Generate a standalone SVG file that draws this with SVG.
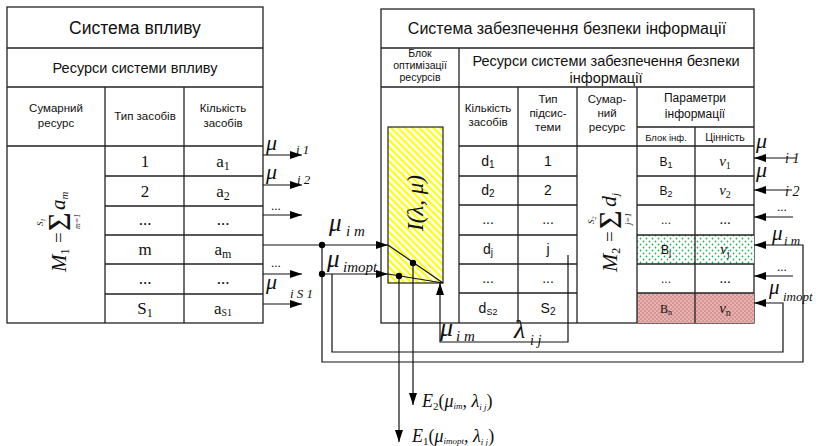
<svg xmlns="http://www.w3.org/2000/svg" width="816" height="446" viewBox="0 0 816 446">
<defs>
<style>
.ln{stroke:#222;stroke-width:1.3;fill:none}
.cn{stroke:#111;stroke-width:1.2;fill:none}
.sans{font-family:"Liberation Sans",Arial,sans-serif;fill:#111}
.serif{font-family:"Liberation Serif","Times New Roman",serif;fill:#111}
.it{font-family:"Liberation Serif","Times New Roman",serif;font-style:italic;fill:#111}
.mid{text-anchor:middle}
.dot{fill:#000}
</style>
<pattern id="hatch" width="5" height="5" patternUnits="userSpaceOnUse" patternTransform="rotate(-45)">
<rect width="5" height="5" fill="#fff"/>
<rect x="0" y="0" width="2.2" height="5" fill="#ffff00"/>
</pattern>
<pattern id="green" width="6" height="6" patternUnits="userSpaceOnUse">
<rect width="6" height="6" fill="#fff"/>
<circle cx="1.5" cy="1.5" r="0.9" fill="#27b35a"/>
<circle cx="4.5" cy="4.5" r="0.9" fill="#27b35a"/>
</pattern>
<pattern id="red" width="4" height="4" patternUnits="userSpaceOnUse">
<rect width="4" height="4" fill="#d99593"/>
<circle cx="1" cy="1" r="0.7" fill="#fbe9e9"/>
<circle cx="3" cy="3" r="0.7" fill="#fbe9e9"/>
</pattern>
<marker id="arr" viewBox="0 0 12 8" refX="12" refY="4" markerWidth="12" markerHeight="8" markerUnits="userSpaceOnUse" orient="auto">
<path d="M0,0 L12,4 L0,8 z" fill="#000"/>
</marker>
</defs>
<rect width="816" height="446" fill="#fff"/>

<g id="left-table">
<rect class="ln" x="7" y="7" width="256" height="316"/>
<path class="ln" d="M7,48 H263 M7,87 H263 M7,146 H263 M105,87 V323 M184,87 V323 M105,176 H263 M105,206 H263 M105,235 H263 M105,264 H263 M105,294 H263"/>
<text class="sans mid" x="135" y="34" font-size="17.5">Система впливу</text>
<text class="sans mid" x="135" y="73" font-size="14.5">Ресурси системи впливу</text>
<text class="sans mid" x="56" y="112" font-size="11.5">Сумарний</text>
<text class="sans mid" x="56" y="127" font-size="11.5">ресурс</text>
<text class="sans mid" x="145" y="120" font-size="11.5">Тип засобів</text>
<text class="sans mid" x="223" y="112" font-size="11.5">Кількість</text>
<text class="sans mid" x="223" y="127" font-size="11.5">засобів</text>
<g class="serif" font-size="17">
<text class="mid" x="145" y="167">1</text>
<text class="mid" x="145" y="197">2</text>
<text class="mid" x="145" y="225">...</text>
<text class="mid" x="145" y="255">m</text>
<text class="mid" x="145" y="284">...</text>
<text class="mid" x="145" y="314">S<tspan font-size="12" dy="3">1</tspan></text>
<text class="mid" x="223" y="167">a<tspan font-size="12" dy="3">1</tspan></text>
<text class="mid" x="223" y="197">a<tspan font-size="12" dy="3">2</tspan></text>
<text class="mid" x="223" y="225">...</text>
<text class="mid" x="223" y="255">a<tspan font-size="12" dy="3">m</tspan></text>
<text class="mid" x="223" y="284">...</text>
<text class="mid" x="223" y="314">a<tspan font-size="10" dy="2">S1</tspan></text>
</g>
<g transform="translate(57,232) rotate(-90)">
<text class="it" x="-40" y="9" font-size="21">M<tspan class="serif" font-style="normal" font-size="12" dy="3">1</tspan></text>
<text class="serif" x="-11" y="8" font-size="19">=</text>
<text class="serif" x="1" y="13" font-size="32">Σ</text>
<text class="it" x="6" y="-14" font-size="9">S<tspan font-size="6" dy="2">1</tspan></text>
<text class="it" x="3" y="23" font-size="8">m=1</text>
<text class="it" x="22" y="8" font-size="21">a<tspan font-size="11" dy="3">m</tspan></text>
</g>
</g>

<g id="right-table">
<rect class="ln" x="381" y="9" width="373" height="314"/>
<rect x="637" y="235" width="117" height="29" fill="url(#green)"/>
<rect x="637" y="293" width="117" height="30" fill="url(#red)"/>
<path class="ln" d="M381,48 H754 M381,87 H754 M459,48 V323 M518,87 V323 M577,87 V323 M637,87 V323 M695,127 V323 M637,127 H754 M459,146 H754 M459,176 H577 M637,176 H754 M459,205 H577 M637,205 H754 M459,235 H577 M637,235 H754 M459,264 H577 M637,264 H754 M459,293 H577 M637,293 H754"/>
<text class="sans mid" x="567" y="34" font-size="16">Система забезпечення безпеки інформації</text>
<text class="sans mid" x="420" y="57" font-size="10.5">Блок</text>
<text class="sans mid" x="420" y="69" font-size="10.5">оптимізації</text>
<text class="sans mid" x="420" y="81" font-size="10.5">ресурсів</text>
<text class="sans mid" x="606" y="66" font-size="14.5">Ресурси системи забезпечення безпеки</text>
<text class="sans mid" x="606" y="83" font-size="14.5">інформації</text>
<text class="sans mid" x="488" y="112" font-size="11.5">Кількість</text>
<text class="sans mid" x="488" y="126" font-size="11.5">засобів</text>
<text class="sans mid" x="548" y="103" font-size="11.5">Тип</text>
<text class="sans mid" x="548" y="117" font-size="11.5">підсис-</text>
<text class="sans mid" x="548" y="131" font-size="11.5">теми</text>
<text class="sans mid" x="607" y="103" font-size="11.5">Сумар-</text>
<text class="sans mid" x="607" y="117" font-size="11.5">ний</text>
<text class="sans mid" x="607" y="131" font-size="11.5">ресурс</text>
<text class="sans mid" x="695" y="102" font-size="12">Параметри</text>
<text class="sans mid" x="695" y="118" font-size="12">інформації</text>
<text class="sans mid" x="666" y="141" font-size="9.5">Блок інф.</text>
<text class="sans mid" x="725" y="141" font-size="10.5">Цінність</text>
<g class="sans" font-size="14">
<text class="mid" x="488" y="166">d<tspan font-size="10" dy="2">1</tspan></text>
<text class="mid" x="488" y="195">d<tspan font-size="10" dy="2">2</tspan></text>
<text class="mid" x="488" y="224">...</text>
<text class="mid" x="488" y="254">d<tspan font-size="10" dy="2">j</tspan></text>
<text class="mid" x="488" y="283">...</text>
<text class="mid" x="488" y="313">d<tspan font-size="9" dy="2">S2</tspan></text>
<text class="mid" x="548" y="166">1</text>
<text class="mid" x="548" y="195">2</text>
<text class="mid" x="548" y="224">...</text>
<text class="mid" x="548" y="254">j</text>
<text class="mid" x="548" y="283">...</text>
<text class="mid" x="548" y="313">S<tspan font-size="10" dy="2">2</tspan></text>
</g>
<g class="sans" font-size="12">
<text class="mid" x="666" y="166">B<tspan font-size="9" dy="2">1</tspan></text>
<text class="mid" x="666" y="195">B<tspan font-size="9" dy="2">2</tspan></text>
<text class="mid" x="666" y="224">...</text>
<text class="mid" x="666" y="254">B<tspan font-size="9" dy="2">j</tspan></text>
<text class="mid" x="666" y="283">...</text>
<text class="mid serif" x="666" y="313">B<tspan font-size="8" dy="2">n</tspan></text>
</g>
<g class="it" font-size="15">
<text class="mid" x="725" y="166">v<tspan class="serif" font-style="normal" font-size="10" dy="3">1</tspan></text>
<text class="mid" x="725" y="195">v<tspan class="serif" font-style="normal" font-size="10" dy="3">2</tspan></text>
<text class="mid serif" font-style="normal" x="725" y="224">...</text>
<text class="mid" x="725" y="254">v<tspan class="serif" font-style="normal" font-size="10" dy="3">j</tspan></text>
<text class="mid serif" font-style="normal" x="725" y="283">...</text>
<text class="mid" x="725" y="313">v<tspan class="serif" font-style="normal" font-size="10" dy="3">n</tspan></text>
</g>
<g transform="translate(607,222) rotate(-90)">
<text class="it" x="-50" y="10" font-size="22">M<tspan class="serif" font-style="normal" font-size="12" dy="3">2</tspan></text>
<text class="serif" x="-20" y="9" font-size="19">=</text>
<text class="serif" x="-7" y="14" font-size="32">Σ</text>
<text class="it" x="-2" y="-13" font-size="9">S<tspan font-size="6" dy="2">2</tspan></text>
<text class="it" x="-3" y="24" font-size="8.5">j=1</text>
<text class="it" x="15" y="9" font-size="22">d<tspan font-size="11" dy="3">j</tspan></text>
</g>
</g>

<g id="optimization-block">
<rect x="388" y="127" width="55" height="156" fill="url(#hatch)" stroke="#222" stroke-width="1.2"/>
<text class="it mid" font-size="23" transform="translate(423,203) rotate(-90)">I(λ, μ)</text>
</g>

<g id="connectors">
<line class="cn" x1="263" y1="155" x2="302" y2="155" marker-end="url(#arr)"/>
<line class="cn" x1="263" y1="185" x2="302" y2="185" marker-end="url(#arr)"/>
<line class="cn" x1="263" y1="215" x2="302" y2="215" marker-end="url(#arr)"/>
<line class="cn" x1="263" y1="274" x2="302" y2="274" marker-end="url(#arr)"/>
<line class="cn" x1="263" y1="304" x2="302" y2="304" marker-end="url(#arr)"/>
<line class="cn" x1="263" y1="245" x2="388" y2="245" marker-end="url(#arr)"/>
<line class="cn" x1="322" y1="274" x2="388" y2="274" marker-end="url(#arr)"/>
<path class="cn" d="M388,245 L443,283 M388,274 L443,283"/>
<path class="cn" d="M322,245 V362 H803 V245 H754" marker-end="url(#arr)"/>
<path class="cn" d="M332,274 V352 H783 V303 H754" marker-end="url(#arr)"/>
<path class="cn" d="M568,255 V342 H440 V283" marker-end="url(#arr)"/>
<path class="cn" d="M413,263 V405" marker-end="url(#arr)"/>
<path class="cn" d="M399,276 V442" marker-end="url(#arr)"/>
<line class="cn" x1="796" y1="158" x2="754" y2="158" marker-end="url(#arr)"/>
<line class="cn" x1="792" y1="190" x2="754" y2="190" marker-end="url(#arr)"/>
<line class="cn" x1="793" y1="217" x2="754" y2="217" marker-end="url(#arr)"/>
<line class="cn" x1="793" y1="276" x2="754" y2="276" marker-end="url(#arr)"/>
<circle class="dot" cx="322" cy="245" r="3.2"/>
<circle class="dot" cx="322" cy="274" r="3.2"/>
<circle class="dot" cx="413" cy="263" r="3.2"/>
<circle class="dot" cx="399" cy="276" r="3.2"/>
</g>

<g id="labels" class="it">
<text x="266" y="150" font-size="22">μ</text><text x="296" y="154" font-size="13">i 1</text>
<text x="266" y="179" font-size="22">μ</text><text x="297" y="184" font-size="13">i 2</text>
<text class="serif" font-style="normal" x="271" y="210" font-size="13">...</text>
<text x="329" y="231" font-size="25">μ</text><text x="346" y="236" font-size="15">i m</text>
<text class="serif" font-style="normal" x="271" y="267" font-size="13">...</text>
<text x="327" y="267" font-size="25">μ</text><text x="343" y="272" font-size="15">imopt</text>
<text x="266" y="289" font-size="22">μ</text><text x="290" y="298" font-size="13">i S 1</text>
<text x="440" y="336" font-size="26">μ</text><text x="456" y="341" font-size="15">i m</text>
<text x="514" y="338" font-size="26">λ</text><text x="530" y="345" font-size="14">i j</text>
<text x="756" y="148" font-size="22">μ</text><text x="785" y="163" font-size="14">i 1</text>
<text x="756" y="177" font-size="22">μ</text><text x="785" y="196" font-size="14">i 2</text>
<text class="serif" font-style="normal" x="777" y="211" font-size="13">...</text>
<text x="772" y="240" font-size="21">μ</text><text x="784" y="245" font-size="13">i m</text>
<text class="serif" font-style="normal" x="777" y="271" font-size="13">...</text>
<text x="769" y="294" font-size="21">μ</text><text x="783" y="301" font-size="13">imopt</text>
<text x="422" y="407" font-size="18">E<tspan class="serif" font-style="normal" font-size="11" dy="3">2</tspan><tspan class="serif" font-style="normal" dy="-3">(</tspan>μ<tspan font-size="9" dy="2">im</tspan><tspan class="serif" font-style="normal" dy="-2">, </tspan>λ<tspan font-size="9" dy="3">i j</tspan><tspan class="serif" font-style="normal" dy="-3">)</tspan></text>
<text x="412" y="442" font-size="18">E<tspan class="serif" font-style="normal" font-size="11" dy="3">1</tspan><tspan class="serif" font-style="normal" dy="-3">(</tspan>μ<tspan font-size="9" dy="2">imopt</tspan><tspan class="serif" font-style="normal" dy="-2">, </tspan>λ<tspan font-size="9" dy="3">i j</tspan><tspan class="serif" font-style="normal" dy="-3">)</tspan></text>
</g>
</svg>
